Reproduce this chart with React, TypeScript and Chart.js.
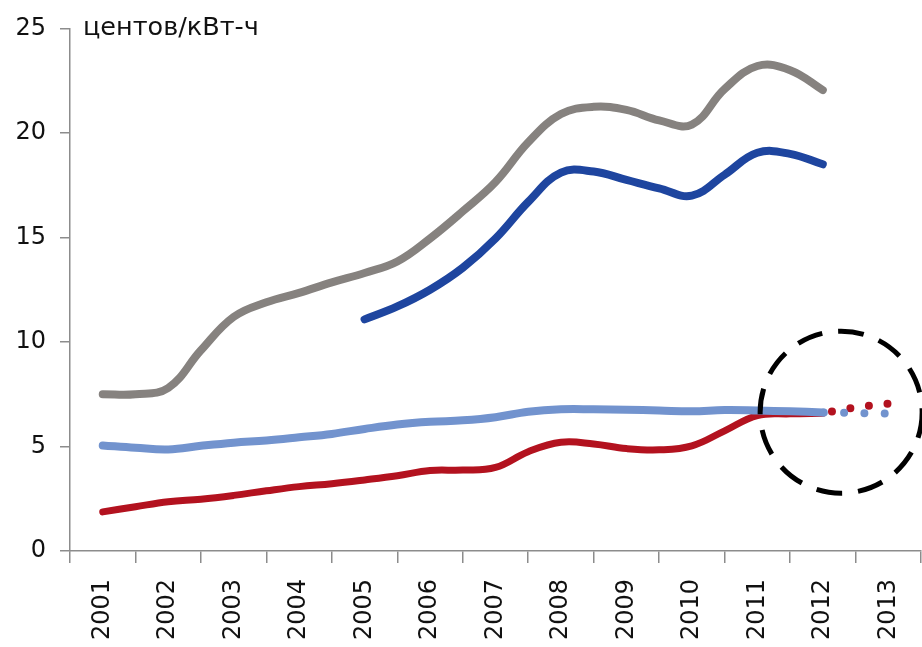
import { useEffect, useRef } from 'react';
import { Chart, registerables } from 'chart.js';

Chart.register(...registerables);

// Category labels on the x axis
const yearLabels = ['2001', '2002', '2003', '2004', '2005', '2006', '2007', '2008', '2009', '2010', '2011', '2012', '2013'];

// Semi-annual observation points (year value)
const halfYears = [
  2001, 2001.5, 2002, 2002.5, 2003, 2003.5, 2004, 2004.5, 2005, 2005.5, 2006, 2006.5,
  2007, 2007.5, 2008, 2008.5, 2009, 2009.5, 2010, 2010.5, 2011, 2011.5, 2012,
];

// Gray series (cents/kWh)
const grayValues = [
  7.5, 7.5, 7.8, 9.6, 11.2, 11.9, 12.35, 12.85, 13.3, 13.85, 14.95, 16.25,
  17.65, 19.55, 20.9, 21.25, 21.1, 20.6, 20.4, 22.1, 23.2, 23.0, 22.05,
];

// Dark blue series, starts in 2005
const darkBlueYears = [2005, 2005.5, 2006, 2006.5, 2007, 2007.5, 2008, 2008.5, 2009, 2009.5, 2010, 2010.5, 2011, 2011.5, 2012];
const darkBlueValues = [11.08, 11.7, 12.5, 13.55, 14.95, 16.7, 18.1, 18.15, 17.75, 17.35, 17.0, 18.0, 19.05, 19.0, 18.5];

// Light blue series
const lightBlueValues = [
  5.05, 4.94, 4.86, 5.03, 5.18, 5.29, 5.44, 5.6, 5.84, 6.05, 6.18, 6.25,
  6.4, 6.66, 6.78, 6.78, 6.76, 6.72, 6.68, 6.74, 6.72, 6.68, 6.63,
];

// Red series
const redValues = [
  1.87, 2.12, 2.36, 2.48, 2.66, 2.88, 3.08, 3.22, 3.4, 3.6, 3.85, 3.87,
  4.0, 4.75, 5.2, 5.12, 4.9, 4.84, 5.03, 5.75, 6.48, 6.56, 6.59,
];

// Projections (dotted)
const projYears = [2012, 2012.5, 2013];
const redProjValues = [6.59, 6.87, 7.05];
const lightBlueProjValues = [6.63, 6.6, 6.58];

// Y axis
const yMin = 0;
const yMax = 25;
const yStep = 5;
const unitLabel = 'центов/кВт-ч';

// Highlight circle (data coordinates for centre, radius in px)
const circleYear = 2012.28;
const circleValue = 6.64;
const circleRadius = 81;

const GRAY = '#86827f';
const DARK_BLUE = '#1e459f';
const LIGHT_BLUE = '#7293ce';
const RED = '#b3121f';
const AXIS = '#8c8c8c';
const FONT = '"DejaVu Sans", sans-serif';

const toPoints = (xs: number[], ys: number[]) => xs.map((x, i) => ({ x, y: ys[i] }));

const annotationPlugin = {
  id: 'annotations',
  afterDatasetsDraw(chart: any) {
    const ctx = chart.ctx as CanvasRenderingContext2D;
    const xs = chart.scales.xd;
    const ys = chart.scales.y;
    ctx.save();
    ctx.beginPath();
    ctx.setLineDash([26, 16]);
    ctx.lineWidth = 5;
    ctx.strokeStyle = '#000';
    ctx.arc(xs.getPixelForValue(circleYear), ys.getPixelForValue(circleValue), circleRadius, 0, Math.PI * 2);
    ctx.stroke();
    ctx.restore();

    ctx.save();
    ctx.font = `25.5px ${FONT}`;
    ctx.fillStyle = '#111';
    ctx.textBaseline = 'middle';
    ctx.textAlign = 'left';
    ctx.fillText(unitLabel, chart.chartArea.left + 13, ys.getPixelForValue(yMax));
    ctx.restore();
  },
};

export default function App() {
  const ref = useRef<HTMLCanvasElement>(null);

  useEffect(() => {
    if (!ref.current) return;
    const lineBase = {
      xAxisID: 'xd',
      yAxisID: 'y',
      pointRadius: 0,
      pointHoverRadius: 0,
      fill: false,
      borderCapStyle: 'round' as const,
      borderJoinStyle: 'round' as const,
    };
    const chart = new Chart(ref.current, {
      type: 'line',
      data: {
        labels: yearLabels,
        datasets: [
          {
            ...lineBase,
            label: 'light blue projection',
            data: toPoints(projYears, lightBlueProjValues),
            borderColor: LIGHT_BLUE,
            borderWidth: 8,
            borderDash: [0, 20.3],
            borderDashOffset: 19.3,
            tension: 0,
          },
          {
            ...lineBase,
            label: 'light blue',
            data: toPoints(halfYears, lightBlueValues),
            borderColor: LIGHT_BLUE,
            borderWidth: 8,
            tension: 0.4,
          },
          {
            ...lineBase,
            label: 'red projection',
            data: toPoints(projYears, redProjValues),
            borderColor: RED,
            borderWidth: 8,
            borderDash: [0, 18.7],
            borderDashOffset: 9.4,
            tension: 0,
          },
          {
            ...lineBase,
            label: 'red',
            data: toPoints(halfYears, redValues),
            borderColor: RED,
            borderWidth: 7,
            tension: 0.4,
          },
          {
            ...lineBase,
            label: 'dark blue',
            data: toPoints(darkBlueYears, darkBlueValues),
            borderColor: DARK_BLUE,
            borderWidth: 8,
            tension: 0.4,
          },
          {
            ...lineBase,
            label: 'gray',
            data: toPoints(halfYears, grayValues),
            borderColor: GRAY,
            borderWidth: 8,
            tension: 0.4,
          },
        ],
      },
      options: {
        animation: false,
        responsive: false,
        devicePixelRatio: 1,
        layout: { padding: { top: 26, right: 1, left: 0, bottom: 0 } },
        plugins: {
          legend: { display: false },
          title: { display: false },
          tooltip: { enabled: false },
        },
        scales: {
          x: {
            type: 'category',
            position: 'bottom',
            offset: true,
            grid: {
              offset: true,
              drawOnChartArea: false,
              drawTicks: true,
              tickLength: 12,
              color: AXIS,
              lineWidth: 1.5,
            },
            border: { display: true, color: AXIS, width: 1.5 },
            ticks: {
              minRotation: 90,
              maxRotation: 90,
              autoSkip: false,
              padding: 16,
              color: '#111',
              font: { family: FONT, size: 24 },
            },
            afterFit: (scale: any) => {
              scale.height = 96;
              scale.paddingLeft = 0;
              scale.paddingRight = 0;
            },
          },
          xd: {
            type: 'linear',
            position: 'bottom',
            display: false,
            min: 2000.5,
            max: 2013.5,
          },
          y: {
            type: 'linear',
            min: yMin,
            max: yMax,
            grid: {
              drawOnChartArea: false,
              drawTicks: true,
              tickLength: 10,
              color: AXIS,
              lineWidth: 1.5,
            },
            border: { display: true, color: AXIS, width: 1.5 },
            ticks: {
              stepSize: yStep,
              padding: 14,
              color: '#111',
              font: { family: FONT, size: 24 },
            },
            afterFit: (scale: any) => {
              scale.width = 70;
            },
          },
        },
      },
      plugins: [annotationPlugin],
    });
    return () => chart.destroy();
  }, []);

  return (
    <div style={{ position: 'absolute', left: 0, top: 0, width: 922, height: 647, background: '#fff' }}>
      <canvas ref={ref} width={922} height={647} />
    </div>
  );
}
